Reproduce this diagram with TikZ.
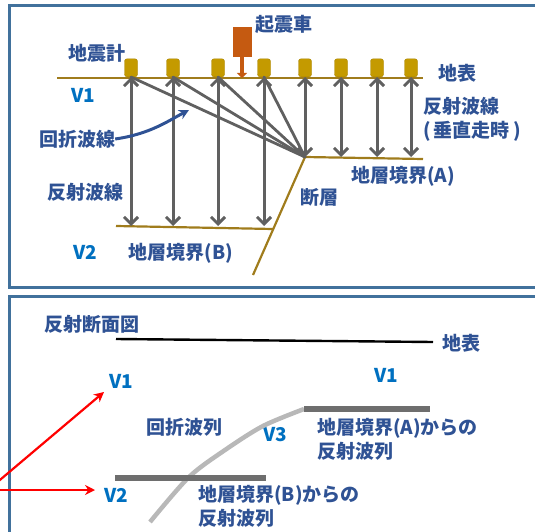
\documentclass[tikz,border=0pt]{standalone}
\usepackage{fontspec}
\setmainfont{Noto Sans CJK JP}
\usetikzlibrary{arrows.meta,positioning}

\definecolor{framecol}{RGB}{65,113,156}
\definecolor{txtcol}{RGB}{47,82,148}
\definecolor{velcol}{RGB}{0,112,192}
\definecolor{gaugecol}{RGB}{196,154,0}
\definecolor{layercol}{RGB}{160,124,28}
\definecolor{raycol}{RGB}{96,96,96}
\definecolor{srccol}{RGB}{197,90,17}
\definecolor{barcol}{RGB}{110,110,110}
\definecolor{diffcol}{RGB}{184,184,184}

\tikzset{
  lbl/.style={text=txtcol,inner sep=0pt,font=\bfseries\fontsize{19}{24}\selectfont},
  vel/.style={text=velcol,inner sep=0pt,font=\bfseries\fontsize{19}{24}\selectfont},
  gauge/.style={draw=gaugecol!85!black,fill=gaugecol,rounded corners=2.5pt,
    minimum width=13pt,minimum height=18pt,inner sep=0pt,anchor=south},
  layer/.style={draw=layercol,line width=2.2pt},
  ray/.style={draw=raycol,line width=3pt,
    {Straight Barb[length=7pt,width=14pt]}-{Straight Barb[length=7pt,width=14pt]}},
  panel/.style={draw=framecol,line width=3pt},
  redarrow/.style={draw=red,line width=2.2pt,-{Stealth[length=10pt,width=10pt]}}
}

\begin{document}
\begin{tikzpicture}[x=1pt,y=-1pt]
\useasboundingbox (0,0) rectangle (535,532);
\draw[panel] (9,6) rectangle (545,287);
\draw[panel] (9,296) rectangle (545,545);

% surface and geophones
\coordinate (sL) at (57,78);
\coordinate (sR) at (423,78);
\draw[layer] (sL) -- (sR);
\foreach \x [count=\i] in {131,173,218,264,305,341,377,411}
  \node[gauge] (g\i) at (\x,77) {};

% boundaries and the fault
\coordinate (fA) at (305,157);
\coordinate (aR) at (423,159);
\coordinate (bL) at (116,226);
\coordinate (bR) at (273,229);
\coordinate (fB) at (253,275);
\draw[layer] (fA) -- (aR);
\draw[layer] (bL) -- (bR);
\draw[layer] (fA) -- (fB);

% ray paths
\foreach \i in {1,...,4}{
  \draw[ray] (g\i.south) -- (g\i.south |- bL);
  \draw[raycol,line width=2.8pt,line cap=round] (fA) -- (g\i.south);
}
\foreach \i in {5,...,8}
  \draw[ray] (g\i.south) -- (g\i.south |- fA);

% source truck
\node[fill=srccol,minimum width=19pt,minimum height=30pt,inner sep=0pt] (src) at (242,42) {};
\draw[srccol,line width=4pt,-{Triangle[length=5pt,width=10pt]}] (src.south) -- (src.south |- sL);

\node[lbl] (srclbl) at (284,24) {起震車};
\node[lbl] (seis) at (97,53) {地震計};
\node[lbl] (surf) at (457,73) {地表};
\node[vel] (v1a) at (83,95) {V1};
\node[lbl] (diffr) at (77,139) {回折波線};
\coordinate (dtip) at (189,110);
\draw[txtcol,line width=3pt,-{Stealth[length=10pt,width=10pt]}] (diffr.east) .. controls (150,134) and (168,121) .. (dtip);
\node[lbl] (reflL) at (85,192) {反射波線};
\node[lbl,align=left,anchor=west] (reflR) at (423,119) {反射波線\\(\,垂直走時\,)};
\node[lbl] (bndA) at (403,176) {地層境界(A)};
\node[lbl] (fault) at (319,197) {断層};
\node[vel] (v2a) at (85,252) {V2};
\node[lbl] (bndB) at (181,253) {地層境界(B)};

% reflection section
\node[lbl] (sect) at (92,324) {反射断面図};
\coordinate (tL) at (116,339);
\coordinate (tR) at (433,342);
\draw[black,line width=2.4pt] (tL) -- (tR);
\node[lbl] (surf2) at (461,343) {地表};
\node[vel] (v1b) at (121,381) {V1};
\node[vel] (v1c) at (386,375) {V1};
\node[lbl] (diffs) at (184,427) {回折波列};
\node[vel] (v3) at (275,435) {V3};
\coordinate (cA) at (304,409);
\coordinate (eA) at (430,409);
\coordinate (cB) at (115,478);
\coordinate (eB) at (266,478);
\draw[diffcol,line width=4.5pt] plot[smooth] coordinates {(150,522) (189,477) (225,450) (263,426) (cA)};
\draw[barcol,line width=6.5pt] (cA) -- (eA);
\draw[barcol,line width=6.5pt] (cB) -- (eB);
\node[lbl,align=left,anchor=north west] (refA) at (317,418) {地層境界(A)からの\\反射波列};
\node[vel] (v2b) at (116,495) {V2};
\node[lbl,align=left,anchor=north west] (refB) at (198,485) {地層境界(B)からの\\反射波列};

\coordinate (o) at (-12,490);
\coordinate (t1) at (104,392);
\coordinate (t2) at (95,490);
\draw[redarrow] (o) -- (t1);
\draw[redarrow] (o) -- (t2);
\end{tikzpicture}
\end{document}
